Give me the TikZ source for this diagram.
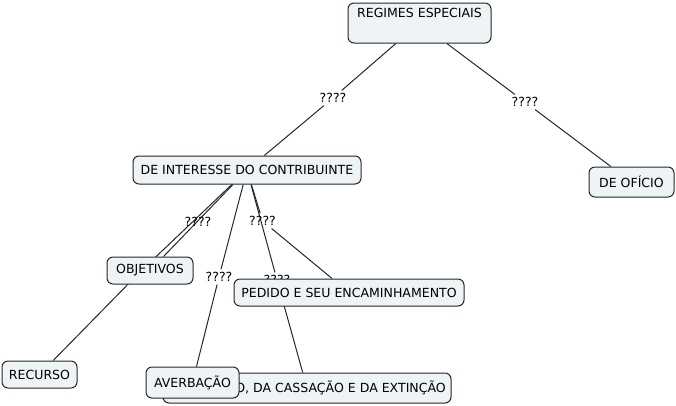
\documentclass[tikz,border=0pt]{standalone}
\usepackage{fontspec}
\setmainfont{DejaVu Sans}
\usetikzlibrary{backgrounds}
\definecolor{boxfill}{HTML}{EEF3F6}
\definecolor{edge}{HTML}{262626}
\tikzset{
  concept/.style={draw=edge, fill=boxfill, rounded corners=4.5pt, line width=0.75pt,
    inner sep=0pt, font=\fontsize{9.4}{11.5}\selectfont, align=center},
  linklbl/.style={inner sep=2pt, font=\fontsize{9.4}{11.5}\selectfont, text=black},
  conn/.style={draw=edge, line width=0.75pt}
}
\begin{document}
\begin{tikzpicture}[x=0.75pt,y=-0.75pt]
\useasboundingbox (0,0) rectangle (676,405);
% link labels (some hidden under boxes)
\node[linklbl] (lblL) at (333,98) {????};
\node[linklbl] (lblR) at (525,102) {????};
\node[linklbl] (lblObj) at (198,222) {????};
\node[linklbl] (lblRec) at (140,272) {????};
\node[linklbl] (lblPed) at (262.5,221) {????};
\node[linklbl] (lblCass) at (277,280) {????};
\node[linklbl] (lblAv) at (219,277) {????};
% concepts
\node[concept, minimum width=107.25pt, minimum height=30pt] (reg) at (419.5,23) {REGIMES ESPECIAIS\\[0pt]\strut};
\node[concept, minimum width=171pt, minimum height=21pt] (di) at (247,170) {DE INTERESSE DO CONTRIBUINTE};
\node[concept, minimum width=63.75pt, minimum height=22.5pt] (of) at (631.5,182) {DE OFÍCIO};
\node[concept, minimum width=64.5pt, minimum height=20.25pt] (obj) at (150,270.5) {OBJETIVOS};
\node[concept, minimum width=172.5pt, minimum height=20.25pt] (ped) at (349,292.5) {PEDIDO E SEU ENCAMINHAMENTO};
\node[concept, minimum width=56.25pt, minimum height=20.25pt] (rec) at (39.5,374.5) {RECURSO};
\node[concept, minimum width=216pt, minimum height=22.5pt] (cass) at (307,388) {DA ADOÇÃO, DA CASSAÇÃO E DA EXTINÇÃO};
\node[concept, minimum width=69.75pt, minimum height=23.25pt] (av) at (192.5,382.5) {AVERBAÇÃO};
% connectors
\begin{scope}[on background layer]
\draw[conn] (reg) -- (lblL);
\draw[conn] (lblL) -- (di);
\draw[conn] (reg) -- (lblR);
\draw[conn] (lblR) -- (of);
\draw[conn] (di) -- (obj);
\draw[conn] (di) -- (lblRec);
\draw[conn] (lblRec) -- (rec);
\draw[conn] (di) -- (lblPed);
\draw[conn] (lblPed) -- (ped);
\draw[conn] (di) -- (lblCass);
\draw[conn] (lblCass) -- (cass);
\draw[conn] (di) -- (lblAv);
\draw[conn] (lblAv) -- (av);
\end{scope}
\end{tikzpicture}
\end{document}
